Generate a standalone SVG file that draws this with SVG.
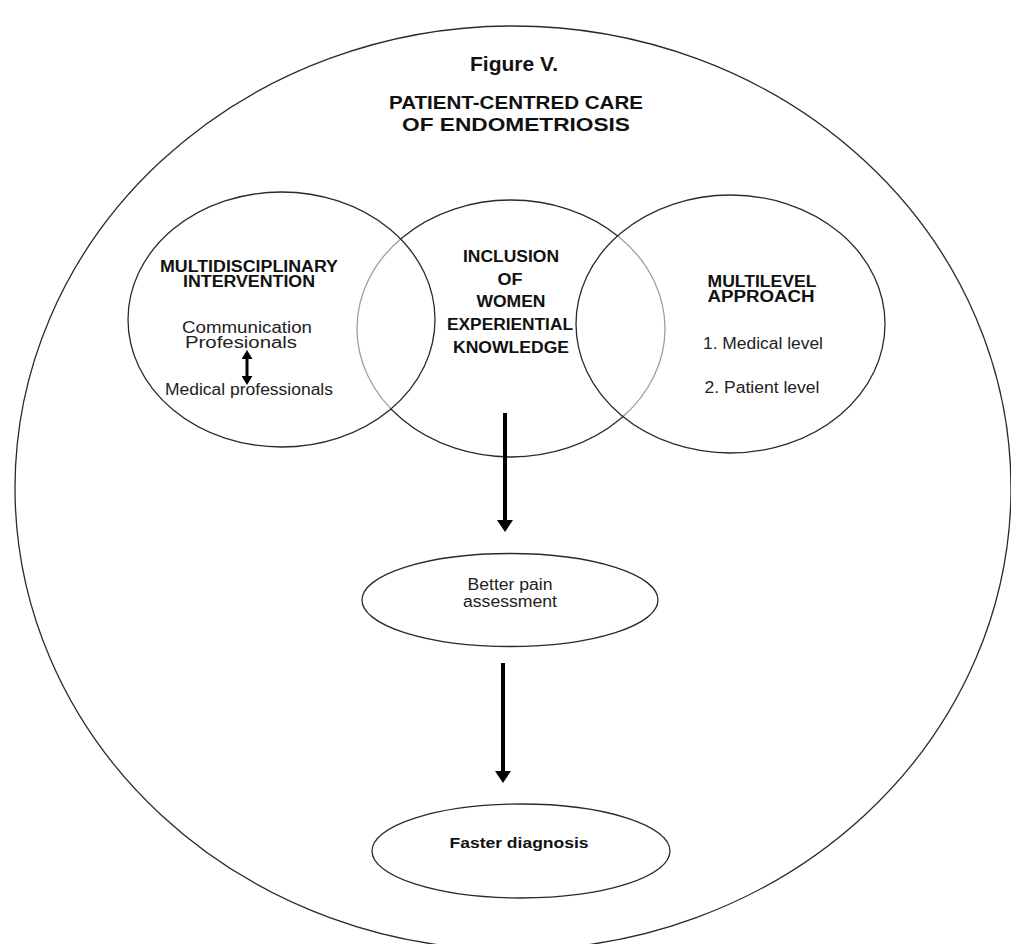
<svg xmlns="http://www.w3.org/2000/svg" width="1011" height="944" viewBox="0 0 1011 944">
<defs>
<style>
.shape{fill:none;stroke:#2a2a2a;stroke-width:1.3}
.veil{fill:#fff;fill-opacity:0.55;stroke:#2a2a2a;stroke-width:1.3}
.b{font-family:"Liberation Sans",Arial,sans-serif;font-weight:bold;fill:#111;text-anchor:middle}
.r{font-family:"Liberation Sans",Arial,sans-serif;fill:#222;text-anchor:middle}
.conn{stroke:#000;fill:none}
</style>
<marker id="head" viewBox="0 0 12 16" refX="0" refY="8" markerWidth="12" markerHeight="16" markerUnits="userSpaceOnUse" orient="auto">
<path d="M0,0 L12,8 L0,16 z" fill="#000"/>
</marker>
<marker id="small" viewBox="0 0 9 11" refX="0" refY="5.5" markerWidth="9" markerHeight="11" markerUnits="userSpaceOnUse" orient="auto-start-reverse">
<path d="M0,0 L9,5.5 L0,11 z" fill="#000"/>
</marker>
</defs>
<rect width="1011" height="944" fill="#fff"/>

<g id="outer">
<ellipse class="shape" cx="513" cy="488" rx="498" ry="462"/>
</g>

<g id="title">
<text class="b" x="514" y="71" font-size="20" textLength="88" lengthAdjust="spacingAndGlyphs">Figure V.</text>
<text class="b" x="516" y="109" font-size="19" textLength="254" lengthAdjust="spacingAndGlyphs">PATIENT-CENTRED CARE</text>
<text class="b" x="516" y="131" font-size="19" textLength="228" lengthAdjust="spacingAndGlyphs">OF ENDOMETRIOSIS</text>
</g>

<g id="inclusion-circle">
<ellipse class="shape" cx="511" cy="328.5" rx="154" ry="128.5"/>
</g>
<g id="multidisciplinary-circle">
<ellipse class="veil" cx="281.5" cy="319.5" rx="153.5" ry="127.5"/>
</g>
<g id="multilevel-circle">
<ellipse class="veil" cx="730.5" cy="324" rx="154.5" ry="129"/>
</g>

<g id="multidisciplinary">
<text class="b" x="249" y="272" font-size="16" textLength="178" lengthAdjust="spacingAndGlyphs">MULTIDISCIPLINARY</text>
<text class="b" x="249" y="287" font-size="16" textLength="132" lengthAdjust="spacingAndGlyphs">INTERVENTION</text>
<text class="r" x="247" y="333" font-size="16" textLength="130" lengthAdjust="spacingAndGlyphs">Communication</text>
<text class="r" x="241" y="348" font-size="16" textLength="112" lengthAdjust="spacingAndGlyphs">Profesionals</text>
<text class="r" x="249" y="395" font-size="16" textLength="168" lengthAdjust="spacingAndGlyphs">Medical professionals</text>
</g>

<g id="inclusion">
<text class="b" x="511" y="262" font-size="16" textLength="96" lengthAdjust="spacingAndGlyphs">INCLUSION</text>
<text class="b" x="510" y="285" font-size="16" textLength="25" lengthAdjust="spacingAndGlyphs">OF</text>
<text class="b" x="511" y="307" font-size="16" textLength="69" lengthAdjust="spacingAndGlyphs">WOMEN</text>
<text class="b" x="510" y="330" font-size="16" textLength="126" lengthAdjust="spacingAndGlyphs">EXPERIENTIAL</text>
<text class="b" x="511" y="353" font-size="16" textLength="116" lengthAdjust="spacingAndGlyphs">KNOWLEDGE</text>
</g>

<g id="multilevel">
<text class="b" x="762" y="287" font-size="16" textLength="109" lengthAdjust="spacingAndGlyphs">MULTILEVEL</text>
<text class="b" x="761" y="302" font-size="16" textLength="107" lengthAdjust="spacingAndGlyphs">APPROACH</text>
<text class="r" x="763" y="349" font-size="16" textLength="120" lengthAdjust="spacingAndGlyphs">1. Medical level</text>
<text class="r" x="762" y="393" font-size="16" textLength="115" lengthAdjust="spacingAndGlyphs">2. Patient level</text>
</g>

<g id="pain">
<ellipse class="shape" cx="510" cy="600" rx="148" ry="46.5"/>
<text class="r" x="510" y="590" font-size="16" textLength="85" lengthAdjust="spacingAndGlyphs">Better pain</text>
<text class="r" x="510" y="607" font-size="16" textLength="94" lengthAdjust="spacingAndGlyphs">assessment</text>
</g>

<g id="diagnosis">
<ellipse class="shape" cx="521" cy="851" rx="149" ry="47"/>
<text class="b" x="519" y="848" font-size="15" textLength="139" lengthAdjust="spacingAndGlyphs">Faster diagnosis</text>
</g>

<g id="connectors">
<line class="conn" x1="505" y1="413" x2="505" y2="520" stroke-width="4" marker-end="url(#head)"/>
<line class="conn" x1="503" y1="663" x2="503" y2="771" stroke-width="4" marker-end="url(#head)"/>
<line class="conn" x1="247" y1="359" x2="247" y2="376" stroke-width="3" marker-start="url(#small)" marker-end="url(#small)"/>
</g>
</svg>
